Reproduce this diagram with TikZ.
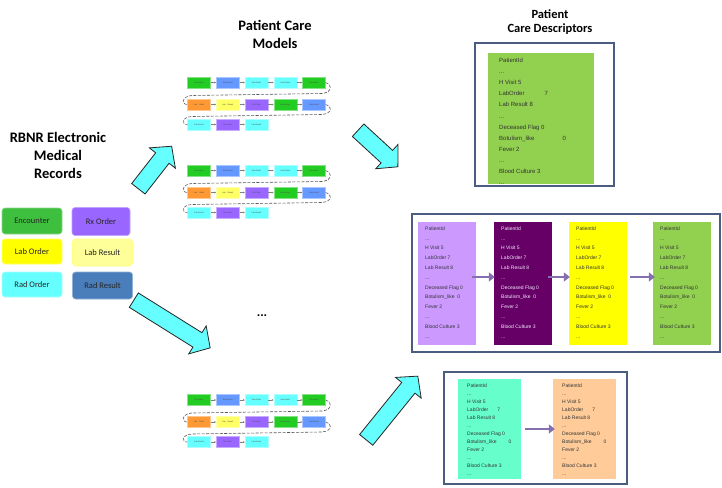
\documentclass[tikz,border=0pt]{standalone}
\usepackage{fontspec}
\setmainfont{Carlito}
\newfontfamily\arialf{Liberation Sans}
\usetikzlibrary{arrows.meta}
\definecolor{lgenc}{HTML}{3EBF3E}
\definecolor{lgrx}{HTML}{9966FF}
\definecolor{lglo}{HTML}{FFFF00}
\definecolor{lglr}{HTML}{FFFF99}
\definecolor{lgro}{HTML}{66FFFF}
\definecolor{lgrr}{HTML}{4A7EBB}
\definecolor{mgreen}{HTML}{22CC22}
\definecolor{mblue}{HTML}{6699FF}
\definecolor{mcyan}{HTML}{66FFFF}
\definecolor{morange}{HTML}{FF9933}
\definecolor{myellow}{HTML}{FFFF66}
\definecolor{mpurple}{HTML}{9966FF}
\definecolor{dgreen}{HTML}{92D050}
\definecolor{dlav}{HTML}{CC99FF}
\definecolor{ddpur}{HTML}{660066}
\definecolor{dyel}{HTML}{FFFF00}
\definecolor{daqua}{HTML}{66FFCC}
\definecolor{dpeach}{HTML}{FFCC99}
\definecolor{framec}{HTML}{4A5D80}
\definecolor{arrc}{HTML}{8470B0}
\definecolor{bigc}{HTML}{66FFFF}
\tikzset{
  title/.style={font=\bfseries\fontsize{14.5}{18}\selectfont, align=center, inner sep=0},
  legbox/.style={rounded corners=3pt, minimum width=60, minimum height=26, inner sep=0, line width=0.6pt,
    font=\fontsize{8.5}{9}\selectfont, text=black!85},
  mbox/.style={minimum width=23, minimum height=11, inner sep=0, line width=0.5pt,
    font=\arialf\fontsize{2}{2}\selectfont, text=black!70},
  marr/.style={draw=gray, line width=0.3pt, -{Stealth[length=1.8pt,width=1.8pt]}},
  mdash/.style={draw=black!65, line width=0.6pt, dash pattern=on 3pt off 1.5pt},
  frame/.style={draw=framec, line width=1.5pt, inner sep=0},
  dbox/.style={draw=none, inner sep=0},
  dtext/.style={inner sep=0, align=left, text=black!80, anchor=north west},
  darr/.style={draw=arrc, line width=2.5pt, -{Triangle[length=6pt,width=9pt]}},
  barrow/.style={fill=bigc, draw=black!85, line width=0.8pt, line join=miter},
}
\newcommand\mgroup[2]{%
  \foreach \c/\t [count=\i] in {mgreen/Encounter, mblue/Rad Result, mcyan/Rad Order, mcyan/Lab Result, mgreen/Encounter}{
    \node[mbox, fill=\c, draw=\c!55!white] (#1a\i) at ({199+28.75*(\i-1)}, #2) {\t};
  }
  \foreach \c/\t [count=\i] in {morange/Lab\quad Order, myellow/Lab\quad Result, mpurple/Rx Order, mgreen/Encounter, mblue/Rad Result}{
    \node[mbox, fill=\c, draw=\c!55!white] (#1b\i) at ({199+28.75*(\i-1)}, {#2+22}) {\t};
  }
  \foreach \c/\t [count=\i] in {mcyan/Lab Result, mpurple/Rx Order, mcyan/Lab Result}{
    \node[mbox, fill=\c, draw=\c!55!white] (#1c\i) at ({199+28.75*(\i-1)}, {#2+42}) {\t};
  }
  \foreach \i/\j in {1/2,2/3,3/4,4/5}{
    \draw[marr] (#1a\i) -- (#1a\j);
    \draw[marr] (#1b\i) -- (#1b\j);
  }
  \foreach \i/\j in {1/2,2/3}{ \draw[marr] (#1c\i) -- (#1c\j); }
  \draw[mdash] (#1a5.east) .. controls (332,{#2+1}) and (333,{#2+10}) .. (322,{#2+11})
     -- (192,{#2+13}) .. controls (182,{#2+13.5}) and (181,{#2+22}) .. (#1b1.west);
  \draw[mdash] (#1b5.east) .. controls (332,{#2+23}) and (333,{#2+31}) .. (322,{#2+32})
     -- (192,{#2+34}) .. controls (182,{#2+34.5}) and (181,{#2+42}) .. (#1c1.west);
}
\newcommand\bigarrow[4]{%
  \begin{scope}[shift={(#1,#2)}, rotate=#3]
    \draw[barrow] ({-#4/2},-8.5) -- ({#4/2-15},-8.5) -- ({#4/2-15},-16.5) -- ({#4/2},0)
      -- ({#4/2-15},16.5) -- ({#4/2-15},8.5) -- ({-#4/2},8.5) -- cycle;
  \end{scope}}
\begin{document}
\begin{tikzpicture}[x=1pt, y=-1pt]
\useasboundingbox[fill=white] (0,0) rectangle (722,487);

% titles
\node[title] (t1) at (58,155) {RBNR Electronic\\Medical\\Records};
\node[title] (t2) at (275,34) {Patient Care\\Models};
\node[title, font=\bfseries\fontsize{12.5}{14}\selectfont] (t3) at (550,22) {Patient\\Care Descriptors};

% legend
\node[legbox, fill=lgenc, draw=lgenc!60!white] (enc) at (32,221) {Encounter};
\node[legbox, fill=lgrx, draw=lgrx!60!white, minimum width=58, minimum height=28] (rx) at (101,221.5) {Rx Order};
\node[legbox, fill=lglo, draw=lglo!60!white, minimum height=25] (lo) at (32,251.5) {Lab Order};
\node[legbox, fill=lglr, draw=lglo!50!white, minimum height=27] (lr) at (102.5,252.5) {Lab Result};
\node[legbox, fill=lgro, draw=lgro!60!white, minimum height=25] (ro) at (32,284.5) {Rad Order};
\node[legbox, fill=lgrr, draw=lgrr!60!white, minimum height=27] (rr) at (102.5,285.5) {Rad Result};

% patient care models
\mgroup{g1}{82.5}
\mgroup{g2}{170.5}
\mgroup{g3}{400}
\node[font=\bfseries\fontsize{13}{13}\selectfont, inner sep=0] (dots) at (262,316) {...};

% big arrows
\bigarrow{155}{167.5}{52}{54}
\bigarrow{378}{148.5}{-42.6}{54}
\bigarrow{172}{324}{-32}{90}
\bigarrow{392}{408}{51}{82}

% top descriptor
\node[frame, minimum width=139, minimum height=143] (f1) at (544.5,114.5) {};
\node[dbox, fill=dgreen, minimum width=106, minimum height=131] (p0) at (541,118.5) {};
\node[dtext, font=\arialf\fontsize{6}{11.1}\selectfont] (p0t) at (499,58) {PatientId\\...\\H Visit 5\\LabOrder\hspace{20pt}7\\Lab Result 8\\...\\Deceased Flag 0\\Botulism\_like\hspace{28pt}0\\Fever 2\\...\\Blood Culture 3\\...};

% middle descriptors
\node[frame, minimum width=308, minimum height=138] (f2) at (566,283) {};
\foreach \n/\x/\c/\tc in {m1/447/dlav/black!80, m2/523/ddpur/white!80!dlav, m3/598/dyel/black!80, m4/682/dgreen/black!80}{
  \node[dbox, fill=\c, minimum width=58, minimum height=123] (\n) at (\x,283.5) {};
  \node[dtext, text=\tc, font=\arialf\fontsize{5}{9.8}\selectfont] (\n t) at ({\x-22},226.5) {PatientId\\...\\H Visit 5\\LabOrder 7\\Lab Result 8\\...\\Deceased Flag 0\\Botulism\_like \ 0\\Fever 2\\...\\Blood Culture 3\\...};
}
\draw[darr] ([xshift=-4pt,yshift=6.5pt]m1.east) -- ([xshift=1pt,yshift=6.5pt]m2.west);
\draw[darr] ([xshift=-4pt,yshift=6.5pt]m2.east) -- ([xshift=1pt,yshift=6.5pt]m3.west);
\draw[darr] ([xshift=3pt,yshift=6.5pt]m3.east) -- ([xshift=2pt,yshift=6.5pt]m4.west);

% bottom descriptors
\node[frame, minimum width=183, minimum height=112] (f3) at (535.5,428) {};
\foreach \n/\x/\c in {b1/489.5/daqua, b2/584.5/dpeach}{
  \node[dbox, fill=\c, minimum width=63, minimum height=100] (\n) at (\x,429) {};
  \node[dtext, font=\arialf\fontsize{5}{8}\selectfont] (\n t) at ({\x-22.5},383.5) {PatientId\\...\\H Visit 5\\LabOrder\hspace{9pt}7\\Lab Result 8\\...\\Deceased Flag 0\\Botulism\_like\hspace{12pt}0\\Fever 2\\...\\Blood Culture 3\\...};
}
\draw[darr] ([xshift=4pt]b1.east) -- ([xshift=2pt]b2.west);
\end{tikzpicture}
\end{document}
